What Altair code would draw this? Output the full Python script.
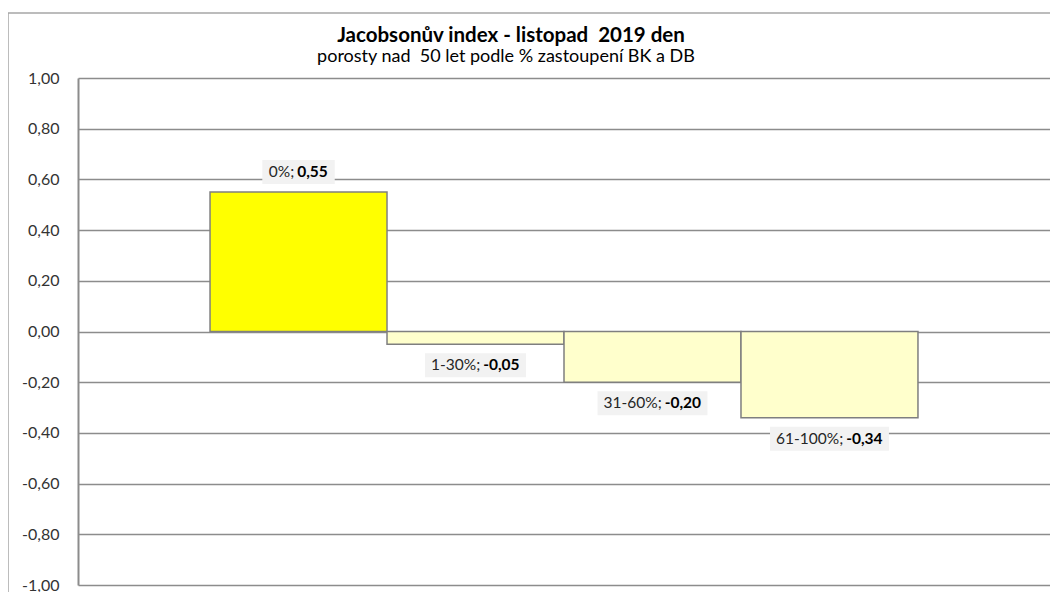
import altair as alt
import pandas as pd

# ---- data ----
categories = ["0%", "1-30%", "31-60%", "61-100%"]
values = [0.55, -0.05, -0.20, -0.34]
y_ticks = [-1.0, -0.8, -0.6, -0.4, -0.2, 0.0, 0.2, 0.4, 0.6, 0.8, 1.0]

TITLE = "Jacobsonův index - listopad \u00a02019 den"
SUBTITLE = "porosty nad \u00a050 let podle % zastoupení BK a DB"

FONT = "Lato"
LABEL_FS = 15.5

W, H = 972, 507
PAD_OUTER = 0.746
STEP = W / (len(categories) + 2 * PAD_OUTER)

# approximate Lato advance widths (em) used only to centre the two-part labels
_W = {"0": .58, "1": .58, "2": .58, "3": .58, "4": .58, "5": .58, "6": .58,
      "7": .58, "8": .58, "9": .58, "%": .79, ";": .24, ",": .23, " ": .19, "-": .34}


def text_w(s, fs):
    return sum(_W.get(c, .55) for c in s) * fs


rows = []
for i, (c, v) in enumerate(zip(categories, values)):
    normal = f"{c};"
    bold = f"{v:.2f}".replace(".", ",")
    wn, ws, wb = text_w(normal, LABEL_FS), text_w(" ", LABEL_FS), text_w(bold, LABEL_FS)
    tot = wn + ws + wb
    rows.append({"cat": c, "value": v, "normal": normal, "bold": bold,
                 "off_n": STEP / 2 - tot / 2 + wn,
                 "off_b": STEP / 2 - tot / 2 + wn + ws,
                 "boxw": tot + 14,
                 "kind": "first" if i == 0 else "other"})
df = pd.DataFrame(rows)

x_scale = alt.Scale(paddingInner=0, paddingOuter=PAD_OUTER)
x_enc = alt.X("cat:N", sort=categories, axis=None, scale=x_scale)
y_scale = alt.Scale(domain=[-1, 1], nice=False)

base = alt.Chart(df)

bars = base.mark_bar(stroke="#7f7f7f", strokeWidth=1.5).encode(
    x=x_enc,
    y=alt.Y("value:Q", scale=y_scale,
            axis=alt.Axis(values=y_ticks, title=None, ticks=False, labelPadding=19,
                          labelExpr="(datum.value < 0 ? '-' : '') + replace(format(abs(datum.value), '.2f'), '.', ',')",
                          labelFont=FONT, labelFontSize=16, labelColor="#333333",
                          domainColor="#8c8c8c", domainWidth=2,
                          grid=True, gridColor="#8c8c8c", gridWidth=1.5)),
    y2=alt.datum(0),
    color=alt.Color("kind:N", legend=None,
                    scale=alt.Scale(domain=["first", "other"], range=["#FFFF00", "#FFFFCC"])),
)


def label_layers(flt, yoff):
    sub = base.transform_filter(flt)
    box = sub.mark_tick(thickness=24, color="#F2F2F2", opacity=1, yOffset=yoff).encode(
        x=x_enc, y=alt.Y("value:Q", scale=y_scale), size=alt.Size("boxw:Q", scale=None))
    t1 = sub.mark_text(font=FONT, fontSize=LABEL_FS, color="#262626", align="right",
                       baseline="middle", yOffset=yoff).encode(
        x=x_enc, y=alt.Y("value:Q", scale=y_scale),
        xOffset=alt.XOffset("off_n:Q", scale=None), text="normal:N")
    t2 = sub.mark_text(font=FONT, fontSize=LABEL_FS, fontWeight="bold", color="#000000",
                       align="left", baseline="middle", yOffset=yoff).encode(
        x=x_enc, y=alt.Y("value:Q", scale=y_scale),
        xOffset=alt.XOffset("off_b:Q", scale=None), text="bold:N")
    return [box, t1, t2]


one = alt.Data(values=[{"a": 1}])
frame_left = alt.Chart(one).mark_rule(color="#a6a6a6", strokeWidth=1.5).encode(
    x=alt.value(-70), y=alt.value(-65), y2=alt.value(H + 40))
frame_top = alt.Chart(one).mark_rule(color="#a6a6a6", strokeWidth=1.5).encode(
    x=alt.value(-70), x2=alt.value(W + 20), y=alt.value(-65))

title = alt.Chart(one).mark_text(font=FONT, fontSize=20.5, fontWeight="bold", color="#000000",
                                 align="center", baseline="alphabetic").encode(
    x=alt.value(433), y=alt.value(-36), text=alt.value(TITLE))
subtitle = alt.Chart(one).mark_text(font=FONT, fontSize=18, color="#000000",
                                    align="center", baseline="alphabetic").encode(
    x=alt.value(428), y=alt.value(-16), text=alt.value(SUBTITLE))

chart = alt.layer(
    frame_left, frame_top, bars,
    *label_layers("datum.value >= 0", -20),
    *label_layers("datum.value < 0", 21),
    title, subtitle,
).properties(
    width=W, height=H,
    autosize=alt.AutoSizeParams(type="none"),
    padding={"left": 70, "top": 70, "right": 0, "bottom": 7},
).configure_view(stroke=None)

chart.save("out.html", embed_options={"renderer": "svg", "actions": False})
